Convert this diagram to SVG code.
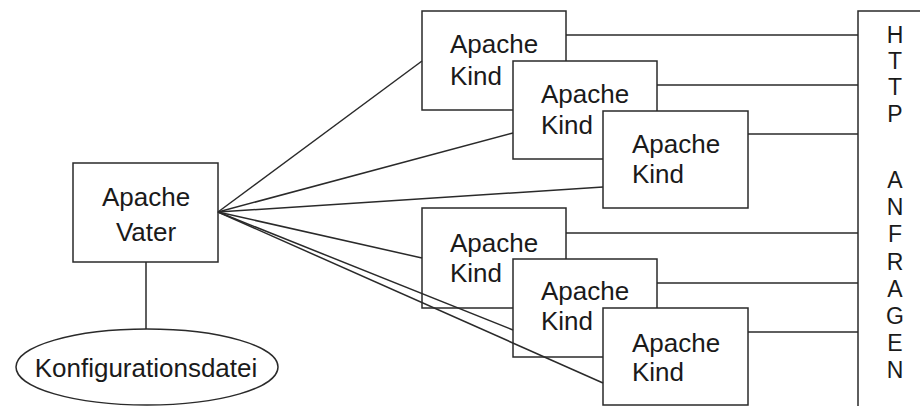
<svg xmlns="http://www.w3.org/2000/svg" width="920" height="406" viewBox="0 0 920 406">
<style>
  .box { fill: #fff; stroke: #2a2a2a; stroke-width: 1.5; }
  .t { font-family: "Liberation Sans", Arial, sans-serif; font-size: 26px; fill: #1a1a1a; }
  .c { text-anchor: middle; }
  .h { font-size: 23px; }
  .ln { stroke: #2a2a2a; stroke-width: 1.5; fill: none; }
</style>
<rect width="920" height="406" fill="#fff"/>

<g id="vater">
  <rect class="box" x="73" y="163" width="145" height="99"/>
  <text class="t c" x="146" y="206">Apache</text>
  <text class="t c" x="146" y="241">Vater</text>
</g>

<g id="konfig">
  <ellipse class="box" cx="147" cy="367" rx="131" ry="38"/>
  <text class="t c" x="146" y="377">Konfigurationsdatei</text>
</g>

<g id="kind1">
  <rect class="box" x="422" y="11" width="144" height="99"/>
  <text class="t" x="450" y="53">Apache</text>
  <text class="t" x="450" y="85">Kind</text>
</g>
<g id="kind2">
  <rect class="box" x="513" y="61" width="144" height="98"/>
  <text class="t" x="541" y="103">Apache</text>
  <text class="t" x="541" y="134">Kind</text>
</g>
<g id="kind3">
  <rect class="box" x="603" y="111" width="145" height="97"/>
  <text class="t" x="632" y="153">Apache</text>
  <text class="t" x="632" y="183">Kind</text>
</g>
<g id="kind4">
  <rect class="box" x="422" y="208" width="144" height="100"/>
  <text class="t" x="450" y="252">Apache</text>
  <text class="t" x="450" y="282">Kind</text>
</g>
<g id="kind5">
  <rect class="box" x="513" y="259" width="144" height="98"/>
  <text class="t" x="541" y="300">Apache</text>
  <text class="t" x="541" y="330">Kind</text>
</g>
<g id="kind6">
  <rect class="box" x="603" y="308" width="145" height="97"/>
  <text class="t" x="632" y="352">Apache</text>
  <text class="t" x="632" y="381">Kind</text>
</g>

<g id="http">
  <rect class="box" x="858" y="11" width="80" height="420"/>
  <text class="t c h" x="895" y="43">H</text>
  <text class="t c h" x="895" y="69">T</text>
  <text class="t c h" x="895" y="95">T</text>
  <text class="t c h" x="895" y="122">P</text>
  <text class="t c h" x="895" y="188">A</text>
  <text class="t c h" x="895" y="215">N</text>
  <text class="t c h" x="895" y="242">F</text>
  <text class="t c h" x="895" y="270">R</text>
  <text class="t c h" x="895" y="297">A</text>
  <text class="t c h" x="895" y="324">G</text>
  <text class="t c h" x="895" y="351">E</text>
  <text class="t c h" x="895" y="378">N</text>
</g>

<g id="connectors">
  <line class="ln" x1="146" y1="262" x2="146" y2="329"/>
  <line class="ln" x1="218" y1="212" x2="422" y2="61"/>
  <line class="ln" x1="218" y1="212" x2="513" y2="133"/>
  <line class="ln" x1="218" y1="212" x2="603" y2="187"/>
  <line class="ln" x1="218" y1="212" x2="422" y2="258"/>
  <line class="ln" x1="218" y1="212" x2="513" y2="330"/>
  <line class="ln" x1="218" y1="212" x2="603" y2="383"/>
  <line class="ln" x1="566" y1="35" x2="858" y2="35"/>
  <line class="ln" x1="657" y1="85" x2="858" y2="85"/>
  <line class="ln" x1="748" y1="134" x2="858" y2="134"/>
  <line class="ln" x1="566" y1="233" x2="858" y2="233"/>
  <line class="ln" x1="657" y1="283" x2="858" y2="283"/>
  <line class="ln" x1="748" y1="332" x2="858" y2="332"/>
</g>
</svg>
